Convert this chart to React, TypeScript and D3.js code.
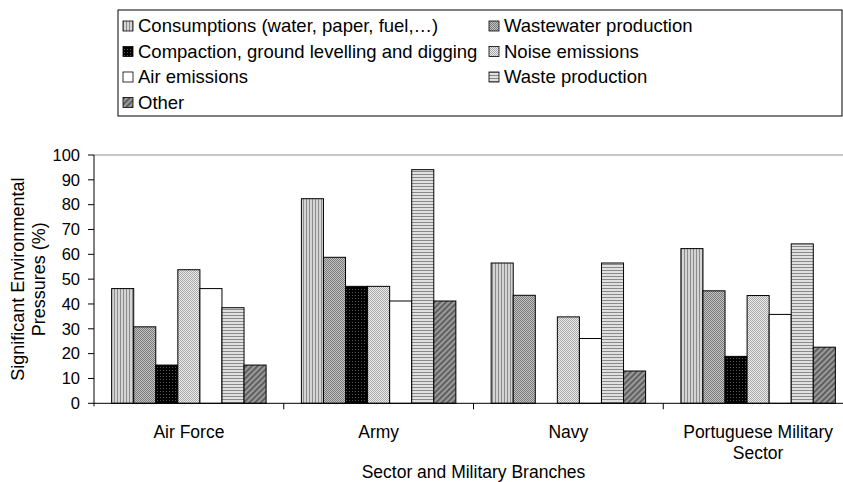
import React from 'react';
import * as d3 from 'd3';

// categories along the x axis
const categories = ['Air Force', 'Army', 'Navy', 'Portuguese Military Sector'];
const categoryLines = [['Air Force'], ['Army'], ['Navy'], ['Portuguese Military', 'Sector']];

// series (legend order)
const seriesNames = [
  'Consumptions (water, paper, fuel,…)',
  'Wastewater production',
  'Compaction, ground levelling and digging',
  'Noise emissions',
  'Air emissions',
  'Waste production',
  'Other',
];

// values (%)
const consumptions = [46.2, 82.4, 56.5, 62.3];
const wastewater = [30.8, 58.8, 43.5, 45.3];
const compaction = [15.4, 47.1, 0, 18.9];
const noise = [53.8, 47.1, 34.8, 43.4];
const airEmissions = [46.2, 41.2, 26.1, 35.8];
const waste = [38.5, 94.1, 56.5, 64.2];
const other = [15.4, 41.2, 13.0, 22.6];

const yTicks = [0, 10, 20, 30, 40, 50, 60, 70, 80, 90, 100];

const seriesValues = [consumptions, wastewater, compaction, noise, airEmissions, waste, other];
const patternIds = ['pVert', 'pDots', 'pBlack', 'pLight', 'pWhite', 'pHoriz', 'pDiag'];

const FONT = '"Liberation Sans", Arial, sans-serif';

export default function App() {
  const width = 843;
  const height = 482;
  const plot = { left: 94, right: 853, top: 155, bottom: 403.3 };

  const x0 = d3.scaleBand<string>()
    .domain(categories)
    .range([plot.left, plot.right])
    .paddingInner(0)
    .paddingOuter(0);

  const x1 = d3.scaleBand<string>()
    .domain(seriesNames)
    .range([0, x0.bandwidth()])
    .paddingInner(0)
    .paddingOuter(0.8);

  const y = d3.scaleLinear().domain([0, 100]).range([plot.bottom, plot.top]);

  const bars = categories.flatMap((cat, ci) =>
    seriesNames.map((s, si) => ({ cat, s, si, v: seriesValues[si][ci] }))
  );

  // legend layout: two columns, row-major
  const legendRowY = (i: number) => 26 + Math.floor(i / 2) * 25.5;
  const legendColX = [123, 489];

  return (
    <svg width={width} height={height} style={{ position: 'absolute', left: 0, top: 0, background: '#fff' }}
      fontFamily={FONT}>
      <defs>
        <pattern id="pVert" width="3" height="4" patternUnits="userSpaceOnUse">
          <rect width="3" height="4" fill="#d4d4d4" />
          <rect width="1" height="4" fill="#8c8c8c" />
        </pattern>
        <pattern id="pDots" width="2" height="2" patternUnits="userSpaceOnUse">
          <rect width="2" height="2" fill="#c4c4c4" />
          <rect width="1" height="1" fill="#7a7a7a" />
          <rect x="1" y="1" width="1" height="1" fill="#7a7a7a" />
        </pattern>
        <pattern id="pBlack" width="3" height="3" patternUnits="userSpaceOnUse">
          <rect width="3" height="3" fill="#000" />
          <rect x="1" y="1" width="1" height="1" fill="#555" />
        </pattern>
        <pattern id="pLight" width="2" height="2" patternUnits="userSpaceOnUse">
          <rect width="2" height="2" fill="#ececec" />
          <rect width="1" height="1" fill="#a8a8a8" />
          <rect x="1" y="1" width="1" height="1" fill="#a8a8a8" />
        </pattern>
        <pattern id="pWhite" width="4" height="4" patternUnits="userSpaceOnUse">
          <rect width="4" height="4" fill="#fff" />
        </pattern>
        <pattern id="pHoriz" width="4" height="3" patternUnits="userSpaceOnUse">
          <rect width="4" height="3" fill="#e0e0e0" />
          <rect width="4" height="1" fill="#8a8a8a" />
        </pattern>
        <pattern id="pDiag" width="4" height="4" patternUnits="userSpaceOnUse" patternTransform="rotate(45)">
          <rect width="4" height="4" fill="#9a9a9a" />
          <rect width="2" height="4" fill="#606060" />
        </pattern>
      </defs>

      {/* legend */}
      <rect x={118} y={10} width={724} height={106} fill="#fff" stroke="#000" strokeWidth={1} />
      {seriesNames.map((s, i) => {
        const cx = legendColX[i % 2];
        const cy = legendRowY(i);
        return (
          <g key={s}>
            <rect x={cx} y={cy - 5} width={10} height={10} fill={`url(#${patternIds[i]})`} stroke="#000" strokeWidth={0.8} />
            <text x={cx + 15} y={cy} dy="0.35em" fontSize={18.5} fill="#000">{s}</text>
          </g>
        );
      })}

      {/* top gridline */}
      <line x1={plot.left} x2={width} y1={y(100)} y2={y(100)} stroke="#b4b4b4" strokeWidth={1.5} />

      {/* bars */}
      {bars.map(b => {
        const bx = (x0(b.cat) || 0) + (x1(b.s) || 0);
        if (b.v <= 0) return null;
        return (
          <rect key={b.cat + b.s} x={bx} y={y(b.v)} width={x1.bandwidth()} height={y(0) - y(b.v)}
            fill={`url(#${patternIds[b.si]})`} stroke="#000" strokeWidth={1} />
        );
      })}

      {/* y axis */}
      <line x1={plot.left} x2={plot.left} y1={plot.top} y2={plot.bottom + 3} stroke="#000" strokeWidth={1} />
      {yTicks.map(t => (
        <g key={t}>
          <line x1={plot.left - 6} x2={plot.left} y1={y(t)} y2={y(t)} stroke="#000" strokeWidth={1} />
          <text x={plot.left - 14} y={y(t)} dy="0.35em" textAnchor="end" fontSize={16.5} fill="#000">{t}</text>
        </g>
      ))}

      {/* x axis */}
      <line x1={plot.left} x2={width} y1={plot.bottom} y2={plot.bottom} stroke="#000" strokeWidth={1} />
      {categories.slice(1).map(c => (
        <line key={c} x1={x0(c)} x2={x0(c)} y1={plot.bottom} y2={plot.bottom + 6} stroke="#000" strokeWidth={1} />
      ))}
      {categories.map((c, i) => (
        <text key={c} x={(x0(c) || 0) + x0.bandwidth() / 2} y={438} textAnchor="middle" fontSize={17.5} fill="#000">
          {categoryLines[i].map((ln, li) => (
            <tspan key={ln} x={(x0(c) || 0) + x0.bandwidth() / 2} dy={li === 0 ? 0 : 20.5}>{ln}</tspan>
          ))}
        </text>
      ))}

      {/* axis titles */}
      <text x={(plot.left + plot.right) / 2} y={478} textAnchor="middle" fontSize={17.5} fill="#000">
        Sector and Military Branches
      </text>
      <text transform={`translate(0, ${(plot.top + plot.bottom) / 2}) rotate(-90)`} textAnchor="middle" fontSize={18} fill="#000">
        <tspan x={0} y={24}>Significant Environmental</tspan>
        <tspan x={0} y={45}>Pressures (%)</tspan>
      </text>
    </svg>
  );
}
